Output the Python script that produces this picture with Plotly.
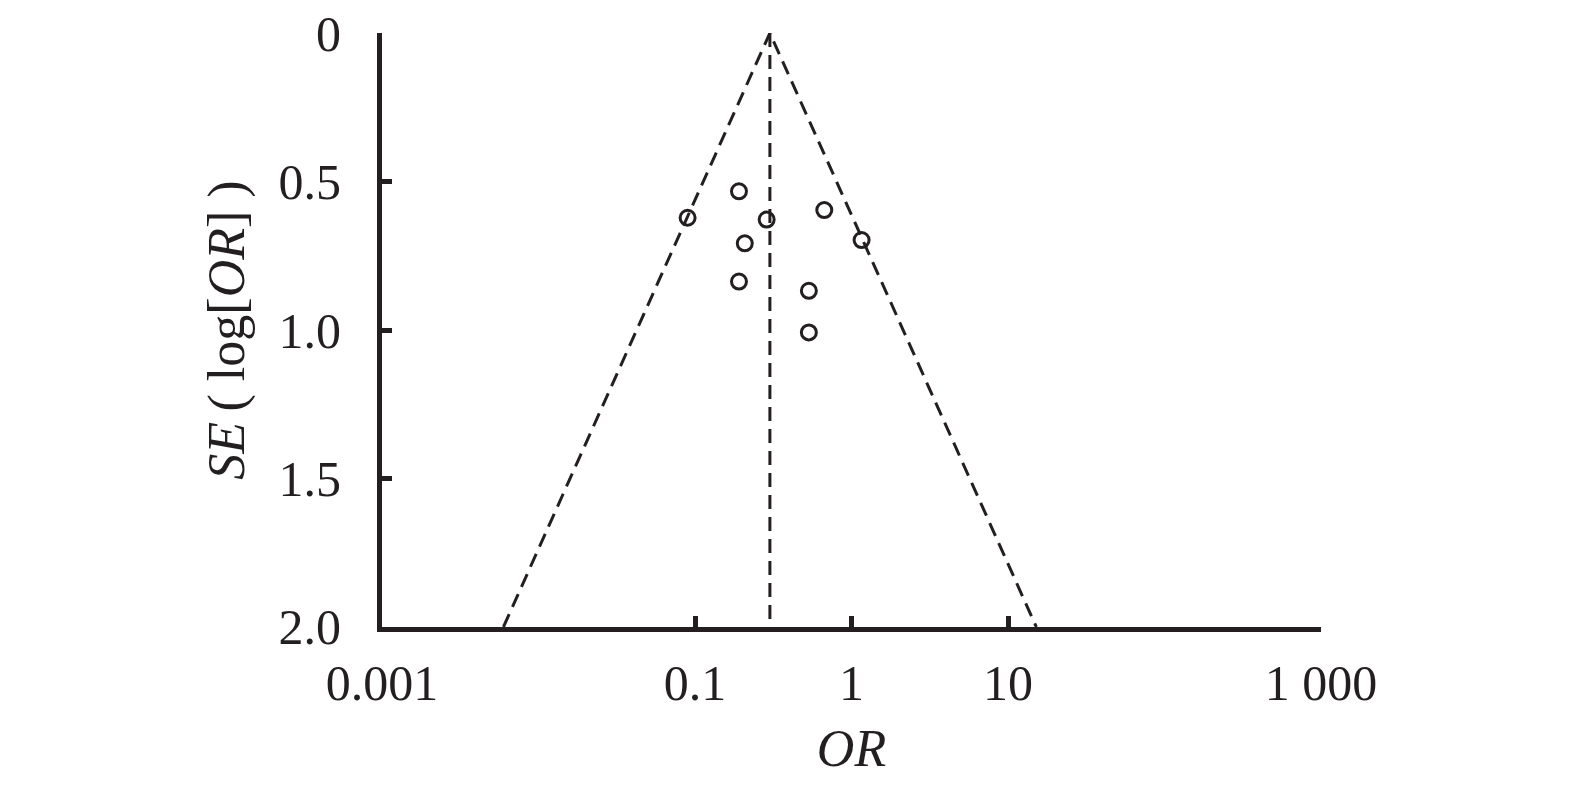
import numpy as np
import plotly.graph_objects as go

# Study data
study_or = [0.0897, 0.191, 0.287, 0.208, 0.191, 0.670, 1.16, 0.534, 0.534]
study_se = [0.622, 0.533, 0.628, 0.708, 0.837, 0.596, 0.697, 0.868, 1.008]

pooled_or = 0.301
se_max = 2.0
z = 1.96

x_tickvals = [0.001, 0.1, 1, 10, 1000]
x_ticktext = ["0.001", "0.1", "1", "10", "1 000"]
y_tickvals = [0, 0.5, 1.0, 1.5, 2.0]
y_ticktext = ["0", "0.5", "1.0", "1.5", "2.0"]

ink = "#231f20"
font_family = "Liberation Serif, Times New Roman, serif"

c = np.log(pooled_or)
left_or = float(np.exp(c - z * se_max))
right_or = float(np.exp(c + z * se_max))

fig = go.Figure()
# funnel limits
fig.add_trace(go.Scatter(
    x=[left_or, pooled_or, right_or], y=[se_max, 0, se_max],
    mode="lines", line=dict(color=ink, width=3, dash="14px,8px"),
    hoverinfo="skip", showlegend=False, cliponaxis=False))
# pooled estimate line
fig.add_trace(go.Scatter(
    x=[pooled_or, pooled_or], y=[0, se_max],
    mode="lines", line=dict(color=ink, width=3, dash="14px,8px"),
    hoverinfo="skip", showlegend=False, cliponaxis=False))
# studies
fig.add_trace(go.Scatter(
    x=study_or, y=study_se, mode="markers",
    marker=dict(symbol="circle-open", size=15, color=ink, line=dict(width=3, color=ink)),
    showlegend=False))

fig.update_layout(
    width=1575, height=791,
    paper_bgcolor="white", plot_bgcolor="white",
    margin=dict(l=382, r=254, t=33, b=164),
    font=dict(family=font_family, size=50, color=ink),
)
fig.update_xaxes(
    type="log", range=[-3, 3], automargin=False,
    tickvals=x_tickvals, ticktext=x_ticktext,
    ticks="inside", ticklen=11, tickwidth=5, tickcolor=ink,
    showline=True, linewidth=5, linecolor=ink,
    showgrid=False, zeroline=False,
    ticklabelstandoff=8, ticklabeloverflow="allow",
    title=dict(text="<i>OR</i>", font=dict(size=52), standoff=21),
)
fig.update_yaxes(
    range=[2.0001, -0.0001], automargin=False,
    tickvals=y_tickvals, ticktext=y_ticktext,
    ticks="inside", ticklen=10, tickwidth=5, tickcolor=ink,
    showline=True, linewidth=5, linecolor=ink,
    showgrid=False, zeroline=False,
    ticklabelstandoff=26, ticklabeloverflow="allow",
    title=dict(text="<i>SE</i>\u2009( log[<i>OR</i>] )", font=dict(size=52), standoff=19),
)

fig.write_html("out.html", config={"displayModeBar": False},
               post_script="document.body.style.margin='0';")
